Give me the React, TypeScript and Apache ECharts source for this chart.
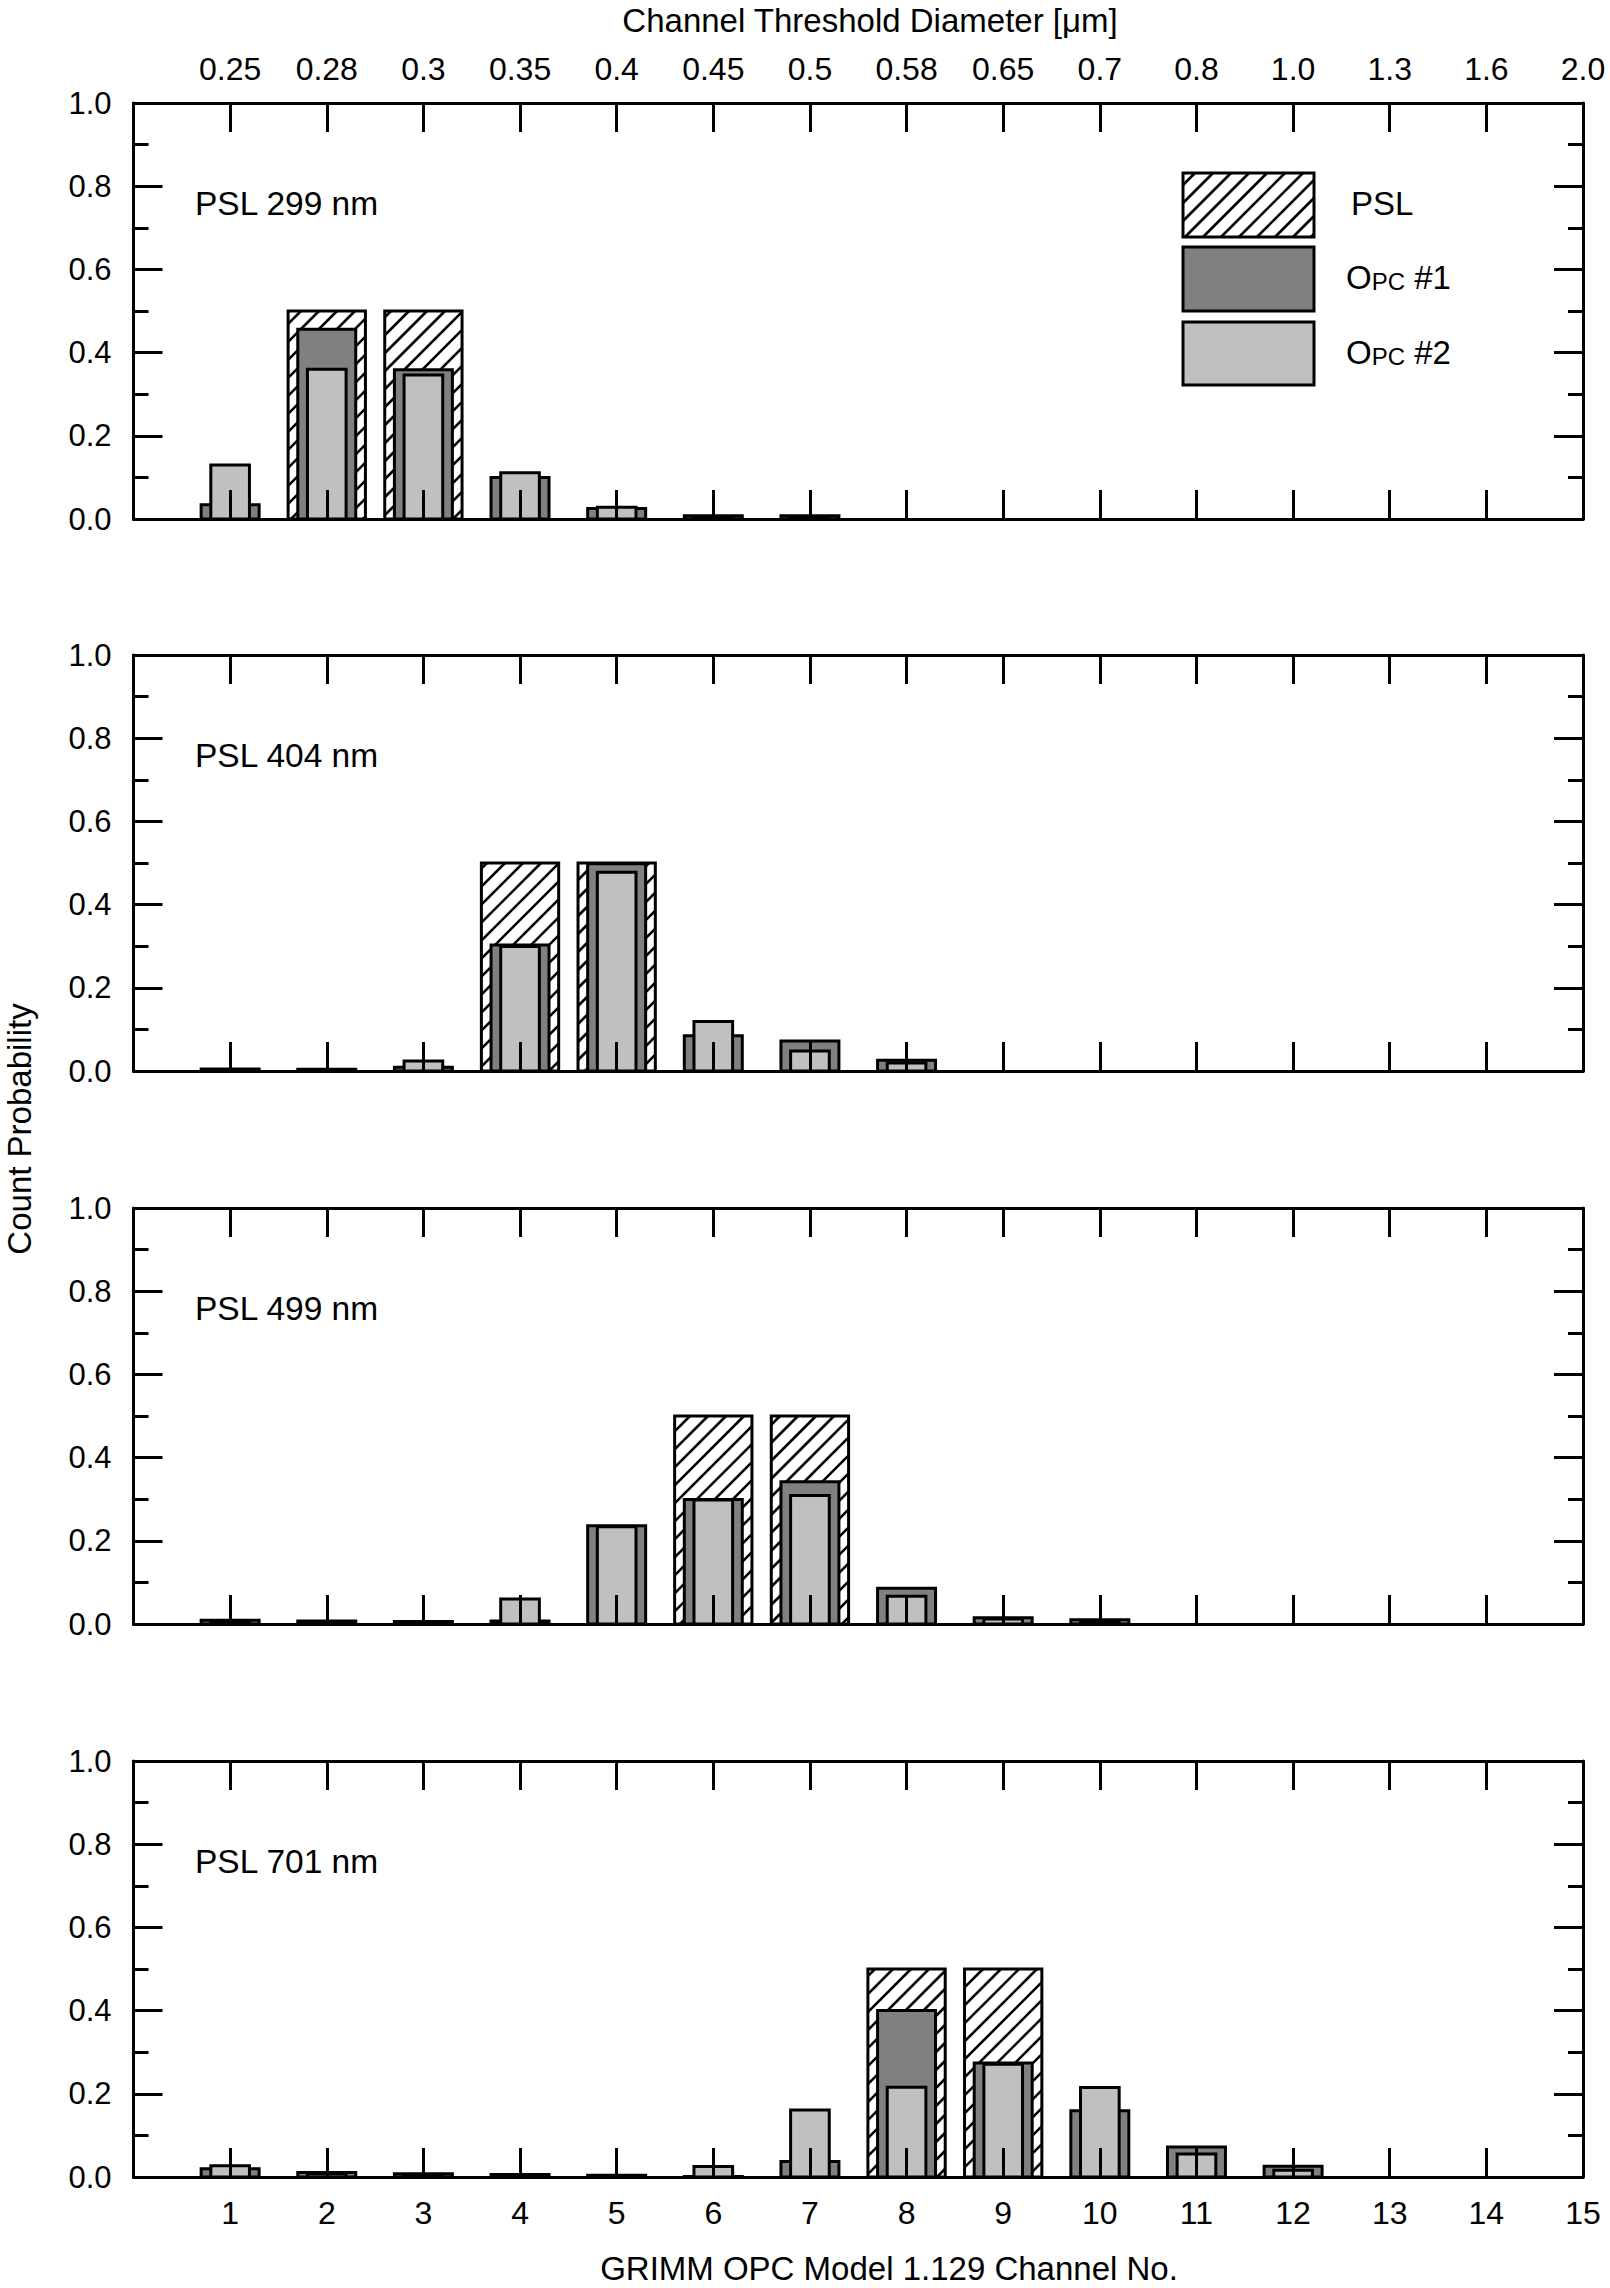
import React, { useEffect, useRef } from "react";
import * as echarts from "echarts";

// ---------- data ----------
const channels = [1, 2, 3, 4, 5, 6, 7, 8, 9, 10, 11, 12, 13, 14];
const diameterLabels = ["0.25", "0.28", "0.3", "0.35", "0.4", "0.45", "0.5", "0.58", "0.65", "0.7", "0.8", "1.0", "1.3", "1.6", "2.0"];
const panelLabels = ["PSL 299 nm", "PSL 404 nm", "PSL 499 nm", "PSL 701 nm"];

const psl299 = [0, 0.5, 0.5, 0, 0, 0, 0, 0, 0, 0, 0, 0, 0, 0];
const opc1_299 = [0.034, 0.456, 0.359, 0.1, 0.025, 0.008, 0.008, 0, 0, 0, 0, 0, 0, 0];
const opc2_299 = [0.13, 0.36, 0.346, 0.111, 0.028, 0.006, 0.005, 0, 0, 0, 0, 0, 0, 0];

const psl404 = [0, 0, 0, 0.5, 0.5, 0, 0, 0, 0, 0, 0, 0, 0, 0];
const opc1_404 = [0.005, 0.004, 0.009, 0.303, 0.498, 0.085, 0.072, 0.026, 0, 0, 0, 0, 0, 0];
const opc2_404 = [0.003, 0.002, 0.024, 0.299, 0.478, 0.119, 0.048, 0.019, 0, 0, 0, 0, 0, 0];

const psl499 = [0, 0, 0, 0, 0, 0.5, 0.5, 0, 0, 0, 0, 0, 0, 0];
const opc1_499 = [0.009, 0.007, 0.006, 0.007, 0.236, 0.299, 0.342, 0.086, 0.015, 0.01, 0, 0, 0, 0];
const opc2_499 = [0.005, 0.004, 0.004, 0.06, 0.234, 0.298, 0.309, 0.067, 0.012, 0.006, 0, 0, 0, 0];

const psl701 = [0, 0, 0, 0, 0, 0, 0, 0.5, 0.5, 0, 0, 0, 0, 0];
const opc1_701 = [0.02, 0.011, 0.008, 0.006, 0.004, 0.001, 0.037, 0.4, 0.274, 0.159, 0.072, 0.026, 0, 0];
const opc2_701 = [0.027, 0.008, 0.006, 0.004, 0.002, 0.025, 0.161, 0.216, 0.271, 0.215, 0.055, 0.016, 0, 0];

const pslSets = [psl299, psl404, psl499, psl701];
const opc1Sets = [opc1_299, opc1_404, opc1_499, opc1_701];
const opc2Sets = [opc2_299, opc2_404, opc2_499, opc2_701];

// ---------- layout / style ----------
const W = 1610;
const H = 2288;
const GRID_LEFT = 133.5;
const GRID_WIDTH = 1449.5;
const PANEL_TOPS = [103, 655, 1208, 1761];
const PANEL_H = 416;
const FONT = "'Liberation Sans', Arial, Helvetica, sans-serif";
const DARK = "#808080";
const LIGHT = "#c0c0c0";
const HATCH_STEP = 18;

function hatchLines(x0: number, y0: number, x1: number, y1: number) {
  const out: any[] = [];
  const start = Math.ceil((x0 + y0) / HATCH_STEP) * HATCH_STEP;
  for (let c = start; c <= x1 + y1; c += HATCH_STEP) {
    const xa = Math.max(x0, c - y1);
    const xb = Math.min(x1, c - y0);
    if (xb - xa > 0.5) {
      out.push({
        type: "line",
        shape: { x1: xa, y1: c - xa, x2: xb, y2: c - xb },
        style: { stroke: "#000", lineWidth: 2.6 },
        silent: true,
      });
    }
  }
  return out;
}

function makeRender(kind: "psl" | "opc1" | "opc2") {
  const half = kind === "psl" ? 0.4 : kind === "opc1" ? 0.3 : 0.2;
  return (params: any, api: any) => {
    const x = api.value(0);
    const v = api.value(1);
    if (!(v > 0)) return null;
    const p0 = api.coord([x - half, v]);
    const p1 = api.coord([x + half, 0]);
    const shape = { x: p0[0], y: p0[1], width: p1[0] - p0[0], height: p1[1] - p0[1] };
    if (kind !== "psl") {
      return {
        type: "rect",
        shape,
        style: { fill: kind === "opc1" ? DARK : LIGHT, stroke: "#000", lineWidth: 3 },
      };
    }
    return {
      type: "group",
      children: [
        { type: "rect", shape, style: { fill: "#fff" } },
        ...hatchLines(shape.x, shape.y, shape.x + shape.width, shape.y + shape.height),
        { type: "rect", shape, style: { fill: "none", stroke: "#000", lineWidth: 3 } },
      ],
    };
  };
}

function buildOption() {
  const grid: any[] = [];
  const xAxis: any[] = [];
  const yAxis: any[] = [];
  const series: any[] = [];
  const axisLine = { show: true, onZero: false, lineStyle: { color: "#000", width: 3 } };
  const labelStyle = { color: "#000", fontSize: 32, fontFamily: FONT };

  PANEL_TOPS.forEach((top, i) => {
    grid.push({ left: GRID_LEFT, width: GRID_WIDTH, top, height: PANEL_H });
    xAxis.push({
      type: "value",
      gridIndex: i,
      position: "bottom",
      min: 0,
      max: 15,
      interval: 1,
      z: 10,
      axisLine,
      axisTick: { show: true, inside: true, length: 29, lineStyle: { color: "#000", width: 3 } },
      axisLabel: {
        show: i === 3,
        margin: 20,
        ...labelStyle,
        formatter: (v: number) => (v >= 1 ? String(v) : ""),
      },
      splitLine: { show: false },
    });
    xAxis.push({
      type: "value",
      gridIndex: i,
      position: "top",
      min: 0,
      max: 15,
      interval: 1,
      z: 10,
      axisLine,
      axisTick: { show: true, inside: true, length: 29, lineStyle: { color: "#000", width: 3 } },
      axisLabel: {
        show: i === 0,
        margin: 18,
        ...labelStyle,
        formatter: (v: number) => (v >= 1 ? diameterLabels[v - 1] : ""),
      },
      splitLine: { show: false },
    });
    const yBase = {
      type: "value",
      gridIndex: i,
      min: 0,
      max: 1,
      interval: 0.2,
      z: 10,
      axisLine,
      axisTick: { show: true, inside: true, length: 29, lineStyle: { color: "#000", width: 3 } },
      minorTick: { show: true, splitNumber: 2, length: 15, lineStyle: { color: "#000", width: 3 } },
      splitLine: { show: false },
      minorSplitLine: { show: false },
    };
    yAxis.push({
      ...yBase,
      position: "left",
      axisLabel: { show: true, margin: 22, ...labelStyle, fontSize: 31, formatter: (v: number) => v.toFixed(1) },
    });
    yAxis.push({ ...yBase, position: "right", axisLabel: { show: false } });

    const sets: [string, number[], "psl" | "opc1" | "opc2"][] = [
      ["PSL", pslSets[i], "psl"],
      ["OPC #1", opc1Sets[i], "opc1"],
      ["OPC #2", opc2Sets[i], "opc2"],
    ];
    sets.forEach(([name, arr, kind], k) => {
      series.push({
        type: "custom",
        name,
        xAxisIndex: i * 2,
        yAxisIndex: i * 2,
        data: channels.map((c, j) => [c, arr[j]]),
        encode: { x: 0, y: 1 },
        renderItem: makeRender(kind),
        clip: false,
        silent: true,
        z: 2 + k,
      });
    });
  });

  const graphic: any[] = [];
  PANEL_TOPS.forEach((top, i) => {
    graphic.push({
      type: "text",
      x: 195,
      y: top + 100,
      style: { text: panelLabels[i], fill: "#000", font: `33.5px ${FONT}`, verticalAlign: "middle", align: "left" },
    });
  });

  // legend
  const LX0 = 1183;
  const LX1 = 1314;
  const boxes = [
    [173, 237],
    [247, 311],
    [322, 385],
  ];
  graphic.push({ type: "rect", shape: { x: LX0, y: boxes[0][0], width: LX1 - LX0, height: boxes[0][1] - boxes[0][0] }, style: { fill: "#fff" } });
  hatchLines(LX0, boxes[0][0], LX1, boxes[0][1]).forEach((l) => graphic.push(l));
  graphic.push({ type: "rect", shape: { x: LX0, y: boxes[0][0], width: LX1 - LX0, height: boxes[0][1] - boxes[0][0] }, style: { fill: "none", stroke: "#000", lineWidth: 3 } });
  graphic.push({ type: "rect", shape: { x: LX0, y: boxes[1][0], width: LX1 - LX0, height: boxes[1][1] - boxes[1][0] }, style: { fill: DARK, stroke: "#000", lineWidth: 3 } });
  graphic.push({ type: "rect", shape: { x: LX0, y: boxes[2][0], width: LX1 - LX0, height: boxes[2][1] - boxes[2][0] }, style: { fill: LIGHT, stroke: "#000", lineWidth: 3 } });
  graphic.push({
    type: "text",
    x: 1351,
    y: 203,
    style: { text: "PSL", fill: "#000", font: `33px ${FONT}`, verticalAlign: "middle", align: "left" },
  });
  const rich = {
    o: { fontSize: 33, fontFamily: FONT, fill: "#000", verticalAlign: "bottom", lineHeight: 33 },
    pc: { fontSize: 24, fontFamily: FONT, fill: "#000", verticalAlign: "bottom", lineHeight: 27 },
    n: { fontSize: 33, fontFamily: FONT, fill: "#000", verticalAlign: "bottom", lineHeight: 33 },
  };
  graphic.push({
    type: "text",
    x: 1346,
    y: 277,
    style: { text: "{o|O}{pc|PC}{n| #1}", rich, fill: "#000", font: `33px ${FONT}`, verticalAlign: "middle", align: "left" },
  });
  graphic.push({
    type: "text",
    x: 1346,
    y: 352,
    style: { text: "{o|O}{pc|PC}{n| #2}", rich, fill: "#000", font: `33px ${FONT}`, verticalAlign: "middle", align: "left" },
  });

  // axis titles
  graphic.push({
    type: "text",
    x: 870,
    y: 20,
    style: { text: "Channel Threshold Diameter [μm]", fill: "#000", font: `33px ${FONT}`, align: "center", verticalAlign: "middle" },
  });
  graphic.push({
    type: "text",
    x: 889,
    y: 2268,
    style: { text: "GRIMM OPC Model 1.129 Channel No.", fill: "#000", font: `33px ${FONT}`, align: "center", verticalAlign: "middle" },
  });
  graphic.push({
    type: "text",
    x: 19,
    y: 1129,
    rotation: Math.PI / 2,
    style: { text: "Count Probability", fill: "#000", font: `33px ${FONT}`, align: "center", verticalAlign: "middle" },
  });

  return {
    animation: false,
    backgroundColor: "#fff",
    grid,
    xAxis,
    yAxis,
    series,
    graphic,
  };
}

export default function App() {
  const ref = useRef<HTMLDivElement>(null);
  useEffect(() => {
    document.body.style.margin = "0";
    if (!ref.current) return;
    const chart = echarts.init(ref.current, undefined, { renderer: "svg", width: W, height: H });
    chart.setOption(buildOption() as any);
    return () => chart.dispose();
  }, []);
  return <div ref={ref} style={{ width: W, height: H, background: "#fff" }} />;
}
